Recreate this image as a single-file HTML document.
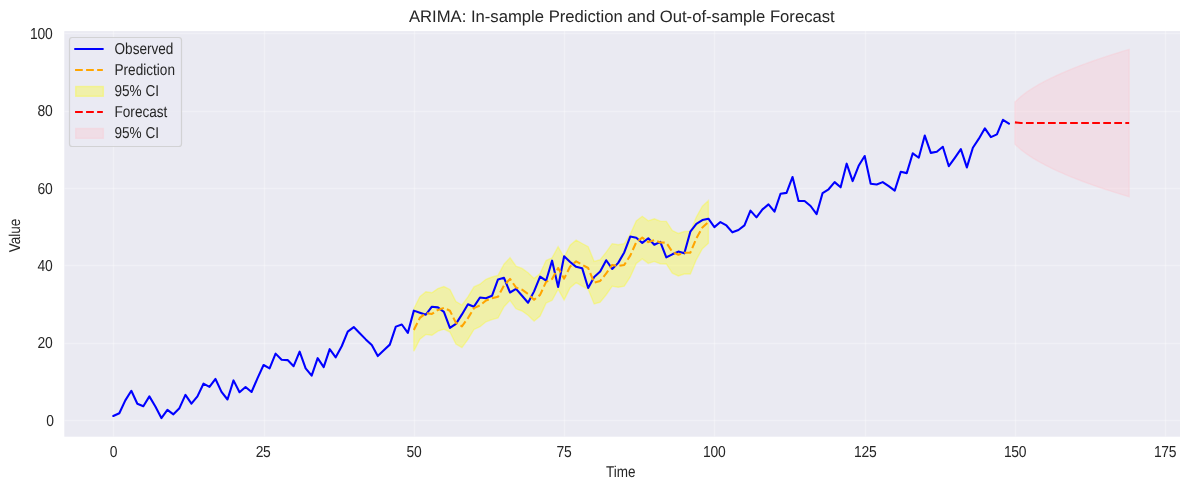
<!DOCTYPE html>
<html lang="en"><head><meta charset="utf-8"><title>ARIMA: In-sample Prediction and Out-of-sample Forecast</title>
<style>html,body{margin:0;padding:0;background:#fff;}body{width:1189px;height:490px;overflow:hidden;}svg{display:block;}text{font-family:"Liberation Sans",Arial,sans-serif;fill:#262626;text-rendering:geometricPrecision;}</style></head><body>
<svg width="1189" height="490" viewBox="0 0 1189 490">
<rect x="0" y="0" width="1189" height="490" fill="#ffffff"/>
<rect x="64.3" y="31.1" width="1115.7" height="405.59999999999997" fill="#eaeaf2"/>
<clipPath id="ax"><rect x="64.3" y="31.1" width="1115.7" height="405.59999999999997"/></clipPath>
<g clip-path="url(#ax)" stroke="#ffffff" stroke-opacity="0.3" stroke-width="1.39" fill="none"><line x1="113.5" y1="31.1" x2="113.5" y2="436.7"/><line x1="264.5" y1="31.1" x2="264.5" y2="436.7"/><line x1="414.5" y1="31.1" x2="414.5" y2="436.7"/><line x1="564.5" y1="31.1" x2="564.5" y2="436.7"/><line x1="714.5" y1="31.1" x2="714.5" y2="436.7"/><line x1="865.5" y1="31.1" x2="865.5" y2="436.7"/><line x1="1015.5" y1="31.1" x2="1015.5" y2="436.7"/><line x1="1165.5" y1="31.1" x2="1165.5" y2="436.7"/><line x1="64.3" y1="420.5" x2="1180.0" y2="420.5"/><line x1="64.3" y1="343.5" x2="1180.0" y2="343.5"/><line x1="64.3" y1="265.5" x2="1180.0" y2="265.5"/><line x1="64.3" y1="188.5" x2="1180.0" y2="188.5"/><line x1="64.3" y1="111.5" x2="1180.0" y2="111.5"/><line x1="64.3" y1="33.5" x2="1180.0" y2="33.5"/></g>
<path d="M413.85 308.7 L419.86 296.63 L425.87 291.83 L431.88 292.7 L437.89 288.61 L443.91 286.59 L449.92 289.46 L455.93 301.5 L461.94 305.03 L467.95 296.86 L473.96 286.89 L479.97 284.18 L485.98 279.24 L491.99 277.03 L498 275.41 L504.02 264.14 L510.03 257.7 L516.04 266.24 L522.05 268.43 L528.06 272.75 L534.07 278.54 L540.08 273.59 L546.09 260.55 L552.1 257.76 L558.11 246.73 L564.12 257.36 L570.14 245.26 L576.15 240.12 L582.16 243.51 L588.17 246.75 L594.18 261.43 L600.19 259.68 L606.2 252.18 L612.21 243.64 L618.22 244.75 L624.24 243.65 L630.25 234.37 L636.26 220.95 L642.27 216.31 L648.28 220.81 L654.29 218.86 L660.3 221.16 L666.31 221.42 L672.32 230.56 L678.33 233.44 L684.34 231.5 L690.36 231.42 L696.37 217.03 L702.38 206.24 L708.39 200.7 L708.39 243.25 L702.38 248.78 L696.37 259.58 L690.36 273.97 L684.34 274.05 L678.33 275.99 L672.32 273.11 L666.31 263.97 L660.3 263.71 L654.29 261.41 L648.28 263.36 L642.27 258.86 L636.26 263.5 L630.25 276.92 L624.24 286.2 L618.22 287.3 L612.21 286.19 L606.2 294.72 L600.19 302.23 L594.18 303.97 L588.17 289.3 L582.16 286.05 L576.15 282.67 L570.14 287.81 L564.12 299.91 L558.11 289.27 L552.1 300.3 L546.09 303.1 L540.08 316.14 L534.07 321.08 L528.06 315.3 L522.05 310.98 L516.04 308.78 L510.03 300.25 L504.02 306.69 L498 317.96 L491.99 319.58 L485.98 321.79 L479.97 326.73 L473.96 329.44 L467.95 339.41 L461.94 347.57 L455.93 344.05 L449.92 332.01 L443.91 329.14 L437.89 331.16 L431.88 335.25 L425.87 334.38 L419.86 339.18 L413.85 351.25 Z" fill="#ffff00" fill-opacity="0.3" stroke="#ffff00" stroke-opacity="0.3" stroke-width="1.39" stroke-linejoin="miter" clip-path="url(#ax)"/>
<path d="M1014.95 101.99 L1020.96 96.49 L1026.97 91.94 L1032.98 87.98 L1038.99 84.43 L1045.01 81.17 L1051.02 78.15 L1057.03 75.32 L1063.04 72.65 L1069.05 70.11 L1075.06 67.69 L1081.07 65.37 L1087.08 63.14 L1093.09 61 L1099.1 58.92 L1105.12 56.91 L1111.13 54.95 L1117.14 53.06 L1123.15 51.21 L1129.16 49.41 L1129.16 196.73 L1123.15 194.93 L1117.14 193.08 L1111.13 191.18 L1105.12 189.23 L1099.1 187.22 L1093.09 185.14 L1087.08 182.99 L1081.07 180.76 L1075.06 178.44 L1069.05 176.02 L1063.04 173.48 L1057.03 170.81 L1051.02 167.98 L1045.01 164.96 L1038.99 161.71 L1032.98 158.15 L1026.97 154.19 L1020.96 149.65 L1014.95 144.15 Z" fill="#ffc0cb" fill-opacity="0.3" stroke="#ffc0cb" stroke-opacity="0.3" stroke-width="1.39" clip-path="url(#ax)"/>
<path d="M113.3 416.03 L119.31 413.21 L125.32 400.33 L131.33 390.77 L137.34 403.69 L143.35 406.17 L149.37 396.38 L155.38 406.48 L161.39 418.04 L167.4 409.84 L173.41 414.33 L179.42 408.18 L185.43 394.91 L191.44 403.69 L197.45 396.38 L203.47 383.69 L209.48 386.83 L215.49 378.97 L221.5 391.89 L227.51 399.51 L233.52 380.37 L239.53 392.28 L245.54 387.06 L251.55 391.97 L257.56 378.08 L263.57 365.01 L269.59 368.3 L275.6 353.6 L281.61 359.79 L287.62 360.1 L293.63 366.17 L299.64 351.63 L305.65 368.3 L311.66 375.65 L317.67 358.16 L323.69 367.14 L329.7 349.19 L335.71 357.35 L341.72 346.25 L347.73 331.55 L353.74 327.07 L359.75 333.18 L365.76 339.4 L371.77 345.09 L377.78 356.04 L383.8 350.31 L389.81 344.63 L395.82 326.64 L401.83 324.51 L407.84 332.87 L413.85 310.63 L419.86 312.75 L425.87 314.73 L431.88 306.72 L437.89 307.38 L443.91 311.94 L449.92 327.95 L455.93 323.85 L461.94 314.42 L467.95 304.28 L473.96 306.68 L479.97 297.55 L485.98 298.21 L491.99 295.77 L498 279.41 L504.02 277.79 L510.03 292.49 L516.04 288.89 L522.05 295.77 L528.06 302.77 L534.07 291.36 L540.08 276.67 L546.09 280.73 L552.1 260.65 L558.11 286.95 L564.12 256.24 L570.14 261.97 L576.15 266.84 L582.16 268.16 L588.17 288.04 L594.18 276.9 L600.19 271.52 L606.2 260.26 L612.21 268.93 L618.22 262.86 L624.24 252.45 L630.25 236.52 L636.26 237.71 L642.27 242.94 L648.28 238.26 L654.29 244.72 L660.3 241.93 L666.31 257.4 L672.32 254.31 L678.33 251.6 L684.34 253.34 L690.36 231.64 L696.37 223.91 L702.38 220.04 L708.39 218.68 L714.4 227.08 L720.41 222.05 L726.42 225.45 L732.43 232.34 L738.44 230.02 L744.45 225.45 L750.47 210.6 L756.48 217.33 L762.49 209.36 L768.5 204.33 L774.51 211.64 L780.52 193.74 L786.53 192.85 L792.54 176.95 L798.55 200.97 L804.56 200.97 L810.58 206 L816.59 214.12 L822.6 193.04 L828.61 189.29 L834.62 182.13 L840.63 187.31 L846.64 163.68 L852.65 181.13 L858.66 165.81 L864.67 155.98 L870.69 183.76 L876.7 184.41 L882.71 182.13 L888.72 186.19 L894.73 190.6 L900.74 171.84 L906.75 173.12 L912.76 153.31 L918.77 157.72 L924.78 135.6 L930.8 152.89 L936.81 151.69 L942.82 146.78 L948.83 166.2 L954.84 157.8 L960.85 149.1 L966.86 167.39 L972.87 147.78 L978.88 138.69 L984.89 128.29 L990.91 137.11 L996.92 134.4 L1002.93 119.82 L1008.94 123.65" fill="none" stroke="#0000ff" stroke-width="2.08" stroke-linejoin="round" stroke-linecap="round"/>
<path d="M413.85 329.97 L419.86 317.91 L425.87 313.11 L431.88 313.97 L437.89 309.89 L443.91 307.86 L449.92 310.74 L455.93 322.77 L461.94 326.3 L467.95 318.13 L473.96 308.17 L479.97 305.46 L485.98 300.52 L491.99 298.31 L498 296.68 L504.02 285.42 L510.03 278.97 L516.04 287.51 L522.05 289.71 L528.06 294.03 L534.07 299.81 L540.08 294.87 L546.09 281.83 L552.1 279.03 L558.11 268 L564.12 278.64 L570.14 266.54 L576.15 261.39 L582.16 264.78 L588.17 268.02 L594.18 282.7 L600.19 280.96 L606.2 273.45 L612.21 264.91 L618.22 266.03 L624.24 264.92 L630.25 255.64 L636.26 242.22 L642.27 237.58 L648.28 242.09 L654.29 240.14 L660.3 242.43 L666.31 242.69 L672.32 251.84 L678.33 254.72 L684.34 252.78 L690.36 252.69 L696.37 238.31 L702.38 227.51 L708.39 221.97" fill="none" stroke="#ffa500" stroke-width="2.08" stroke-linejoin="round" stroke-dasharray="7.71 3.33"/>
<path d="M1014.95 122.37 L1020.96 123.07 L1026.97 123.07 L1032.98 123.07 L1038.99 123.07 L1045.01 123.07 L1051.02 123.07 L1057.03 123.07 L1063.04 123.07 L1069.05 123.07 L1075.06 123.07 L1081.07 123.07 L1087.08 123.07 L1093.09 123.07 L1099.1 123.07 L1105.12 123.07 L1111.13 123.07 L1117.14 123.07 L1123.15 123.07 L1129.16 123.07" fill="none" stroke="#ff0000" stroke-width="2.08" stroke-linejoin="round" stroke-dasharray="7.71 3.33"/>
<text transform="translate(113.57 457) scale(1 1.14)" font-size="13.89" text-anchor="middle" letter-spacing="-0.3">0</text>
<text transform="translate(263.06 457) scale(1 1.14)" font-size="13.89" text-anchor="middle" letter-spacing="-0.3">25</text>
<text transform="translate(413.99 457) scale(1 1.14)" font-size="13.89" text-anchor="middle" letter-spacing="-0.3">50</text>
<text transform="translate(564.04 457) scale(1 1.14)" font-size="13.89" text-anchor="middle" letter-spacing="-0.3">75</text>
<text transform="translate(714.21 457) scale(1 1.14)" font-size="13.89" text-anchor="middle" letter-spacing="-0.3">100</text>
<text transform="translate(865.19 457) scale(1 1.14)" font-size="13.89" text-anchor="middle" letter-spacing="-0.3">125</text>
<text transform="translate(1015.08 457) scale(1 1.14)" font-size="13.89" text-anchor="middle" letter-spacing="-0.3">150</text>
<text transform="translate(1165 457) scale(1 1.14)" font-size="13.89" text-anchor="middle" letter-spacing="-0.3">175</text>
<text transform="translate(53.57 426) scale(1 1.14)" font-size="13.89" text-anchor="end" letter-spacing="-0.3">0</text>
<text transform="translate(52.32 348) scale(1 1.14)" font-size="13.89" text-anchor="end" letter-spacing="-0.3">20</text>
<text transform="translate(52.32 271) scale(1 1.14)" font-size="13.89" text-anchor="end" letter-spacing="-0.3">40</text>
<text transform="translate(52.32 194) scale(1 1.14)" font-size="13.89" text-anchor="end" letter-spacing="-0.3">60</text>
<text transform="translate(52.32 116) scale(1 1.14)" font-size="13.89" text-anchor="end" letter-spacing="-0.3">80</text>
<text transform="translate(52.32 39) scale(1 1.14)" font-size="13.89" text-anchor="end" letter-spacing="-0.3">100</text>
<text transform="translate(620.7 476.8) scale(1 1.16)" font-size="13.5" text-anchor="middle">Time</text>
<text transform="translate(20.2 235.4) rotate(-90) scale(1 1.16)" font-size="13.5" text-anchor="middle">Value</text>
<text transform="translate(621.8 21.6)" font-size="16.67" text-anchor="middle">ARIMA: In-sample Prediction and Out-of-sample Forecast</text>
<rect x="69.5" y="37.5" width="112" height="109" rx="2.8" ry="2.8" fill="#eaeaf2" fill-opacity="0.8" stroke="#cccccc" stroke-opacity="0.8" stroke-width="1.2"/>
<line x1="75.06" y1="49" x2="102.84" y2="49" stroke="#0000ff" stroke-width="2.08" stroke-linecap="round"/>
<line x1="75.06" y1="70" x2="102.84" y2="70" stroke="#ffa500" stroke-width="2.08" stroke-dasharray="7.71 3.33"/>
<rect x="75.7" y="86.5" width="27.65" height="9.8" fill="#ffff00" fill-opacity="0.3" stroke="#ffff00" stroke-opacity="0.3" stroke-width="1.39"/>
<line x1="75.06" y1="112" x2="102.84" y2="112" stroke="#ff0000" stroke-width="2.08" stroke-dasharray="7.71 3.33"/>
<rect x="75.7" y="128.5" width="27.65" height="9.8" fill="#ffc0cb" fill-opacity="0.3" stroke="#ffc0cb" stroke-opacity="0.3" stroke-width="1.39"/>
<text transform="translate(114.5 53.9) scale(1 1.16)" font-size="13.6">Observed</text>
<text transform="translate(114.5 74.9) scale(1 1.16)" font-size="13.6">Prediction</text>
<text transform="translate(114.5 96.3) scale(1 1.16)" font-size="13.6">95% CI</text>
<text transform="translate(114.5 116.9) scale(1 1.16)" font-size="13.6">Forecast</text>
<text transform="translate(114.5 138.3) scale(1 1.16)" font-size="13.6">95% CI</text>
</svg></body></html>
